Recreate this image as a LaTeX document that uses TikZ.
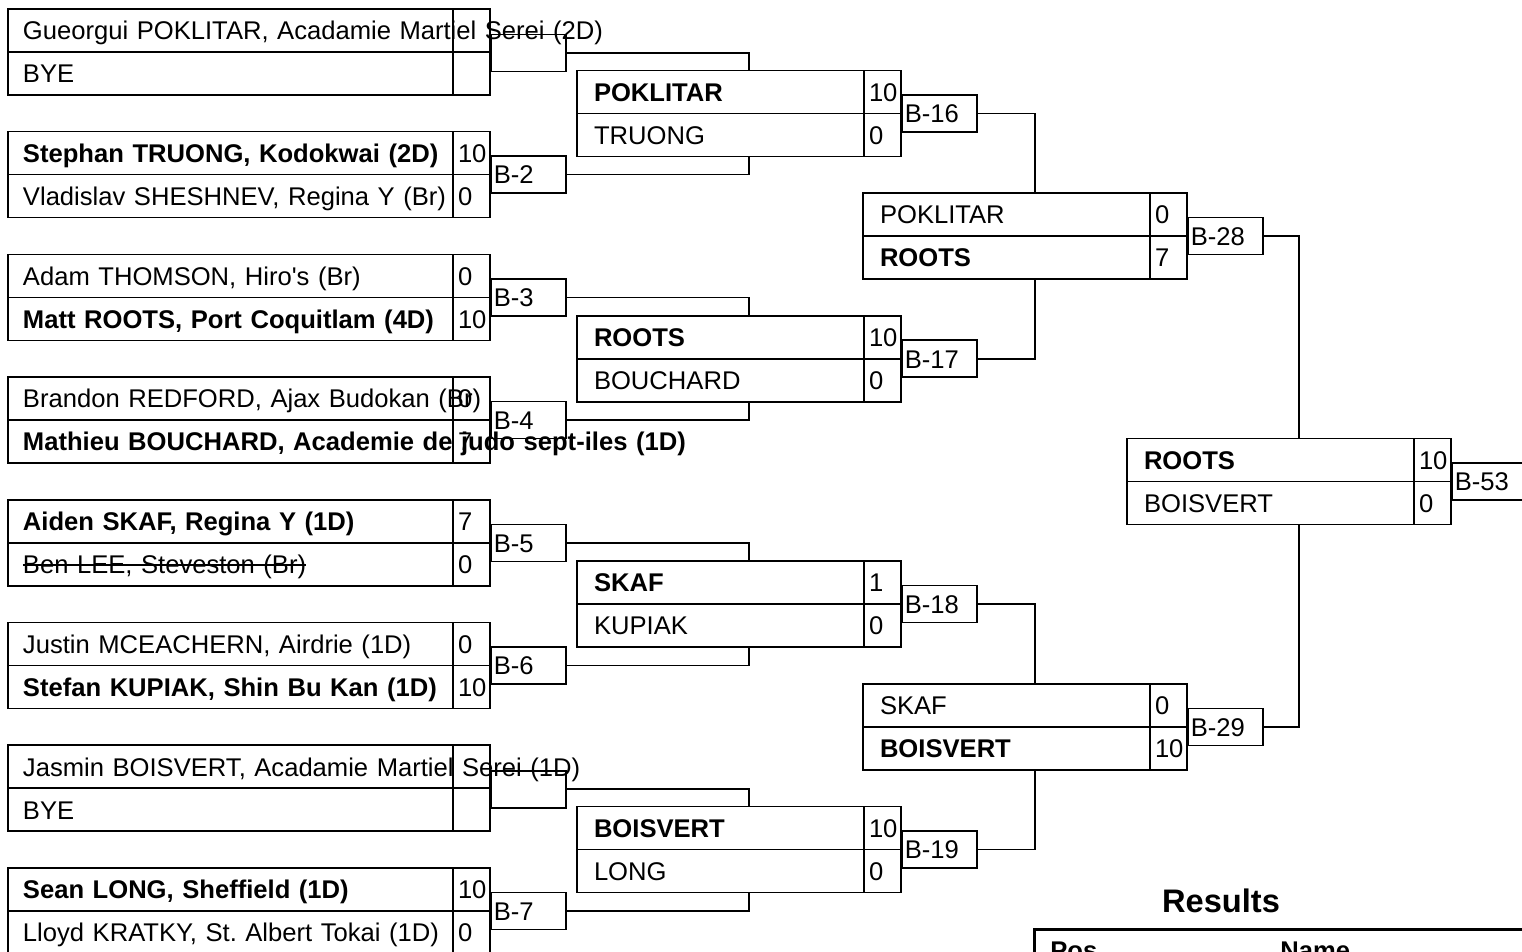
\documentclass[tikz,border=0pt]{standalone}
\usepackage{fontspec}
\setmainfont{Liberation Sans}[Ligatures=TeXOff]
\frenchspacing
\newsavebox\strikebox
\newcommand\strikeout[1]{\sbox\strikebox{#1}\rlap{\usebox\strikebox}\rule[0.3em]{\wd\strikebox}{0.8pt}}
\pgfdeclarelayer{nodelayer}
\pgfdeclarelayer{edgelayer}
\pgfsetlayers{edgelayer,nodelayer,main}
\tikzstyle{name cell}=[draw=black, line width=0.8pt, shape=rectangle, inner xsep=7.5pt, inner ysep=0pt, text width=207.5pt, align=left, minimum height=21.5pt, text height=12pt, text depth=2.7pt, font=\fontsize{12.8}{15}\selectfont]
\tikzstyle{short cell}=[name cell, inner xsep=8.5pt, text width=126.5pt]
\tikzstyle{score cell}=[name cell, inner xsep=2.5pt, text width=13.5pt]
\tikzstyle{bout box}=[name cell, inner xsep=1.5pt, text width=34.5pt, minimum height=18.5pt, anchor=west]
\tikzstyle{title}=[draw=none, inner sep=0pt, anchor=base, font=\fontsize{16.3}{19}\selectfont\bfseries]
\tikzstyle{table frame}=[draw=black, line width=1.5pt, shape=rectangle, inner sep=0pt, minimum width=300pt, minimum height=50pt, anchor=north west]
\tikzstyle{table head}=[draw=none, inner sep=0pt, anchor=base west, font=\fontsize{12.8}{15}\selectfont\bfseries]
\tikzstyle{bracket edge}=[draw=black, line width=0.8pt]

\begin{document}
\begin{tikzpicture}[x=0.5pt, y=-0.5pt]
	\useasboundingbox (0, 0) rectangle (1522, 952);
	\begin{pgfonlayer}{nodelayer}
		\node [style=name cell] (0) at (230.5, 30.5) {\mbox{Gueorgui POKLITAR, Acadamie Martiel Serei (2D)}};
		\node [style=name cell] (1) at (230.5, 73.5) {BYE};
		\node [style=score cell] (2) at (471.5, 30.5) {};
		\node [style=score cell] (3) at (471.5, 73.5) {};
		\node [style=bout box] (4) at (490, 53) {};
		\node [style=name cell] (5) at (230.5, 153.2) {\mbox{\bfseries Stephan TRUONG, Kodokwai (2D)}};
		\node [style=name cell] (6) at (230.5, 196.2) {\mbox{Vladislav SHESHNEV, Regina Y (Br)}};
		\node [style=score cell] (7) at (471.5, 153.2) {10};
		\node [style=score cell] (8) at (471.5, 196.2) {0};
		\node [style=bout box] (9) at (490, 174.7) {B-2};
		\node [style=name cell] (10) at (230.5, 275.9) {\mbox{Adam THOMSON, Hiro's (Br)}};
		\node [style=name cell] (11) at (230.5, 318.9) {\mbox{\bfseries Matt ROOTS, Port Coquitlam (4D)}};
		\node [style=score cell] (12) at (471.5, 275.9) {0};
		\node [style=score cell] (13) at (471.5, 318.9) {10};
		\node [style=bout box] (14) at (490, 297.4) {B-3};
		\node [style=name cell] (15) at (230.5, 398.6) {\mbox{Brandon REDFORD, Ajax Budokan (Br)}};
		\node [style=name cell] (16) at (230.5, 441.6) {\mbox{\bfseries Mathieu BOUCHARD, Academie de judo sept-iles (1D)}};
		\node [style=score cell] (17) at (471.5, 398.6) {0};
		\node [style=score cell] (18) at (471.5, 441.6) {7};
		\node [style=bout box] (19) at (490, 420.1) {B-4};
		\node [style=name cell] (20) at (230.5, 521.3) {\mbox{\bfseries Aiden SKAF, Regina Y (1D)}};
		\node [style=name cell] (21) at (230.5, 564.3) {\mbox{\strikeout{Ben LEE, Steveston (Br)}}};
		\node [style=score cell] (22) at (471.5, 521.3) {7};
		\node [style=score cell] (23) at (471.5, 564.3) {0};
		\node [style=bout box] (24) at (490, 542.8) {B-5};
		\node [style=name cell] (25) at (230.5, 644.0) {\mbox{Justin MCEACHERN, Airdrie (1D)}};
		\node [style=name cell] (26) at (230.5, 687.0) {\mbox{\bfseries Stefan KUPIAK, Shin Bu Kan (1D)}};
		\node [style=score cell] (27) at (471.5, 644.0) {0};
		\node [style=score cell] (28) at (471.5, 687.0) {10};
		\node [style=bout box] (29) at (490, 665.5) {B-6};
		\node [style=name cell] (30) at (230.5, 766.7) {\mbox{Jasmin BOISVERT, Acadamie Martiel Serei (1D)}};
		\node [style=name cell] (31) at (230.5, 809.7) {BYE};
		\node [style=score cell] (32) at (471.5, 766.7) {};
		\node [style=score cell] (33) at (471.5, 809.7) {};
		\node [style=bout box] (34) at (490, 789.2) {};
		\node [style=name cell] (35) at (230.5, 889.4) {\mbox{\bfseries Sean LONG, Sheffield (1D)}};
		\node [style=name cell] (36) at (230.5, 932.4) {\mbox{Lloyd KRATKY, St. Albert Tokai (1D)}};
		\node [style=score cell] (37) at (471.5, 889.4) {10};
		\node [style=score cell] (38) at (471.5, 932.4) {0};
		\node [style=bout box] (39) at (490, 910.9) {B-7};
		\node [style=short cell] (40) at (720.5, 91.85) {\bfseries POKLITAR};
		\node [style=short cell] (41) at (720.5, 134.85) {TRUONG};
		\node [style=score cell] (42) at (882.5, 91.85) {10};
		\node [style=score cell] (43) at (882.5, 134.85) {0};
		\node [style=bout box] (44) at (901, 113.35) {B-16};
		\node [style=short cell] (45) at (720.5, 337.25) {\bfseries ROOTS};
		\node [style=short cell] (46) at (720.5, 380.25) {BOUCHARD};
		\node [style=score cell] (47) at (882.5, 337.25) {10};
		\node [style=score cell] (48) at (882.5, 380.25) {0};
		\node [style=bout box] (49) at (901, 358.75) {B-17};
		\node [style=short cell] (50) at (720.5, 582.65) {\bfseries SKAF};
		\node [style=short cell] (51) at (720.5, 625.65) {KUPIAK};
		\node [style=score cell] (52) at (882.5, 582.65) {1};
		\node [style=score cell] (53) at (882.5, 625.65) {0};
		\node [style=bout box] (54) at (901, 604.15) {B-18};
		\node [style=short cell] (55) at (720.5, 828.05) {\bfseries BOISVERT};
		\node [style=short cell] (56) at (720.5, 871.05) {LONG};
		\node [style=score cell] (57) at (882.5, 828.05) {10};
		\node [style=score cell] (58) at (882.5, 871.05) {0};
		\node [style=bout box] (59) at (901, 849.55) {B-19};
		\node [style=short cell] (60) at (1006.5, 214.55) {POKLITAR};
		\node [style=short cell] (61) at (1006.5, 257.55) {\bfseries ROOTS};
		\node [style=score cell] (62) at (1168.5, 214.55) {0};
		\node [style=score cell] (63) at (1168.5, 257.55) {7};
		\node [style=bout box] (64) at (1187, 236.05) {B-28};
		\node [style=short cell] (65) at (1006.5, 705.35) {SKAF};
		\node [style=short cell] (66) at (1006.5, 748.35) {\bfseries BOISVERT};
		\node [style=score cell] (67) at (1168.5, 705.35) {0};
		\node [style=score cell] (68) at (1168.5, 748.35) {10};
		\node [style=bout box] (69) at (1187, 726.85) {B-29};
		\node [style=short cell] (70) at (1270.5, 459.95) {\bfseries ROOTS};
		\node [style=short cell] (71) at (1270.5, 502.95) {BOISVERT};
		\node [style=score cell] (72) at (1432.5, 459.95) {10};
		\node [style=score cell] (73) at (1432.5, 502.95) {0};
		\node [style=bout box] (74) at (1451, 481.45) {B-53};
		\node [style=title] (75) at (1221, 912) {Results};
		\node [style=table frame] (76) at (1033, 928) {};
		\node [style=table head] (77) at (1050, 959) {Pos};
		\node [style=table head] (78) at (1280, 959) {Name};
	\end{pgfonlayer}
	\begin{pgfonlayer}{edgelayer}
		\draw [style=bracket edge] (4.east) -| ([xshift=14.25pt]40.north);
		\draw [style=bracket edge] (9.east) -| ([xshift=14.25pt]41.south);
		\draw [style=bracket edge] (14.east) -| ([xshift=14.25pt]45.north);
		\draw [style=bracket edge] (19.east) -| ([xshift=14.25pt]46.south);
		\draw [style=bracket edge] (24.east) -| ([xshift=14.25pt]50.north);
		\draw [style=bracket edge] (29.east) -| ([xshift=14.25pt]51.south);
		\draw [style=bracket edge] (34.east) -| ([xshift=14.25pt]55.north);
		\draw [style=bracket edge] (39.east) -| ([xshift=14.25pt]56.south);
		\draw [style=bracket edge] (44.east) -| ([xshift=14.25pt]60.north);
		\draw [style=bracket edge] (49.east) -| ([xshift=14.25pt]61.south);
		\draw [style=bracket edge] (54.east) -| ([xshift=14.25pt]65.north);
		\draw [style=bracket edge] (59.east) -| ([xshift=14.25pt]66.south);
		\draw [style=bracket edge] (64.east) -| ([xshift=14.25pt]70.north);
		\draw [style=bracket edge] (69.east) -| ([xshift=14.25pt]71.south);
	\end{pgfonlayer}
\end{tikzpicture}
\end{document}
